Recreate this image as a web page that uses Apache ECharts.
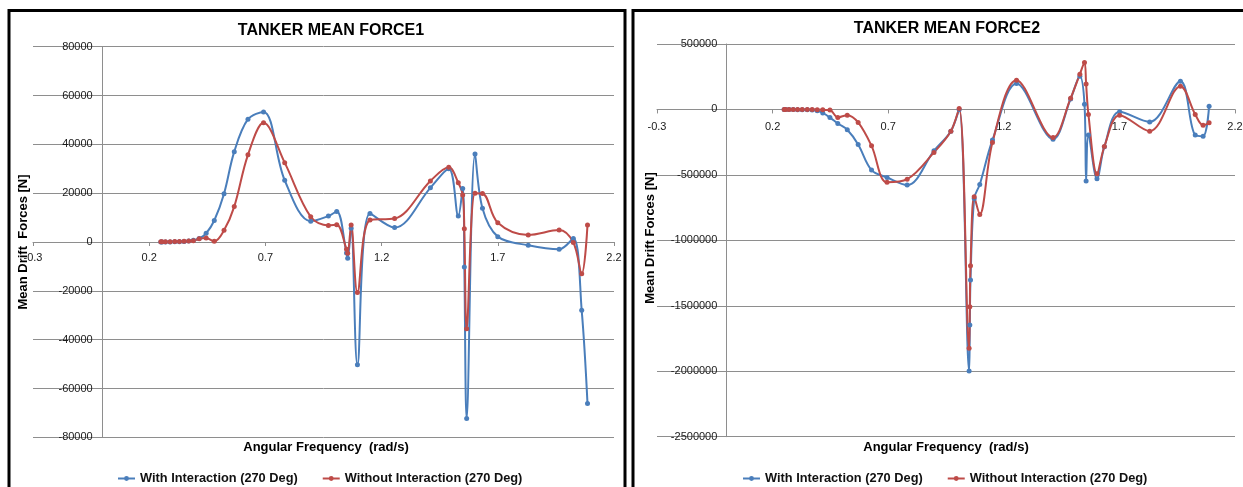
<!DOCTYPE html>
<html>
<head>
<meta charset="utf-8">
<script src="https://cdn.jsdelivr.net/npm/echarts@6/dist/echarts.min.js"></script>
<style>
  html, body { margin: 0; padding: 0; background: #ffffff; }
  #chart { width: 1243px; height: 487px; }
</style>
</head>
<body>
<div id="chart"></div>
<script>
// Angular frequencies (rad/s) sampled for each panel
const freq1 = [0.25, 0.255, 0.27, 0.29, 0.31, 0.33, 0.35, 0.37, 0.39, 0.415, 0.445, 0.48,
  0.522, 0.566, 0.625, 0.692, 0.783, 0.895, 0.971, 1.007, 1.049, 1.054, 1.069, 1.096,
  1.15, 1.256, 1.41, 1.489, 1.53, 1.549, 1.556, 1.566, 1.602, 1.634, 1.70, 1.831,
  1.964, 2.025, 2.061, 2.086];

// Mean drift force, panel 1 (N)
const withInteraction1 = [0, 0, 0, 50, 100, 150, 250, 400, 700, 1400, 3550, 8800,
  19800, 37000, 50300, 53300, 25300, 8500, 10600, 12500, -4500, -6700, 5600, -50300,
  11700, 5900, 22200, 30000, 10600, 21900, -10200, -72300, 36000, 13800, 2200, -1350,
  -3000, 1400, -28000, -66200];
const withoutInteraction1 = [100, 100, 150, 150, 200, 250, 300, 400, 550, 1300, 1600, 300,
  4800, 14500, 35700, 48800, 32500, 10300, 6800, 7100, -3000, -4600, 7000, -20700,
  9000, 9600, 25000, 30600, 24300, 19300, 5400, -35500, 20000, 19900, 7900, 2900,
  4900, -200, -13000, 7000];

const freq2 = [0.25, 0.256, 0.271, 0.289, 0.308, 0.328, 0.35, 0.371, 0.393, 0.417, 0.448, 0.482,
  0.523, 0.570, 0.628, 0.695, 0.782, 0.898, 0.971, 1.007, 1.050, 1.053, 1.056, 1.072,
  1.096, 1.151, 1.255, 1.413, 1.489, 1.529, 1.549, 1.556, 1.566, 1.603, 1.635, 1.701,
  1.831, 1.964, 2.028, 2.062, 2.088];

// Mean drift force, panel 2 (N)
const withInteraction2 = [0, 0, 0, -1000, -1500, -2000, -3000, -5000, -9000, -27000, -62000, -107000,
  -155000, -267000, -463000, -520000, -578000, -316000, -166000, 0, -1998000, -1647000, -1303000, -680000,
  -573000, -234000, 198000, -227000, 80000, 254000, 40000, -547000, -196000, -530000, -285000, -18000,
  -95000, 216000, -196000, -204000, 25000];
const withoutInteraction2 = [0, 0, 0, 0, 0, 0, 0, 0, -2000, -3000, -5000, -61000,
  -43500, -99000, -278000, -557000, -533000, -328000, -166000, 7600, -1825000, -1507000, -1194000, -667000,
  -802000, -252000, 224000, -214000, 86000, 269000, 359000, 195000, -38000, -492000, -283000, -43500,
  -166000, 178000, -38000, -120000, -102000];

const xTicks = [-0.3, 0.2, 0.7, 1.2, 1.7, 2.2];
const seriesNames = ['With Interaction (270 Deg)', 'Without Interaction (270 Deg)'];
const titles = ['TANKER MEAN FORCE1', 'TANKER MEAN FORCE2'];
const yNames = ['Mean Drift  Forces [N]', 'Mean Drift Forces [N]'];
const xName = 'Angular Frequency  (rad/s)';

const FONT = '"Liberation Sans", Arial, sans-serif';
const BLUE = '#4a7ebb';
const RED = '#be4b48';
const GRID_COLOR = '#8e8e8e';
const X_MIN = -0.3, X_MAX = 2.2;

// plotting rectangles of the two panels
const grids = [
  { left: 33, top: 46.7, width: 581, height: 390.6 },
  { left: 657, top: 44, width: 578, height: 392.7 }
];
const yRanges = [
  { min: -80000, max: 80000, interval: 20000 },
  { min: -2500000, max: 500000, interval: 500000 }
];

const pairs = (xs, ys) => xs.map((x, i) => [x, ys[i]]);

// Both axes cross at the origin: shift each axis (line, ticks and labels) in from the grid edge
function yAxisShift(i) {
  return -grids[i].width * (0 - X_MIN) / (X_MAX - X_MIN);
}
function xAxisShift(i) {
  const r = yRanges[i];
  return -grids[i].height * (0 - r.min) / (r.max - r.min);
}

function xAxisFor(i, margin) {
  return {
    type: 'value', gridIndex: i, min: X_MIN, max: X_MAX,
    offset: xAxisShift(i),
    splitLine: { show: false },
    axisLine: { onZero: false, lineStyle: { color: GRID_COLOR, width: 1 } },
    axisTick: { show: true, length: 4, customValues: xTicks, lineStyle: { color: GRID_COLOR } },
    axisLabel: {
      customValues: xTicks, margin, color: '#1a1a1a', fontSize: 11, fontFamily: FONT,
      formatter: v => v.toFixed(1)
    }
  };
}

function yAxisFor(i, margin) {
  const r = yRanges[i];
  return {
    type: 'value', gridIndex: i, min: r.min, max: r.max, interval: r.interval,
    offset: yAxisShift(i),
    splitLine: { show: true, lineStyle: { color: GRID_COLOR, width: 1 } },
    axisLine: { show: true, onZero: false, lineStyle: { color: GRID_COLOR, width: 1 } },
    axisTick: { show: false },
    axisLabel: { margin, color: '#1a1a1a', fontSize: 11, fontFamily: FONT, formatter: v => String(v) }
  };
}

function lineSeries(name, idx, data, color) {
  return {
    name, type: 'line', xAxisIndex: idx, yAxisIndex: idx, data,
    smooth: 0.35, symbol: 'circle', symbolSize: 5, showSymbol: true,
    lineStyle: { color, width: 2 }, itemStyle: { color },
    emphasis: { disabled: true }, animation: false
  };
}

function legendAt(left) {
  return {
    left, top: 472, padding: 0, itemWidth: 17, itemHeight: 6, itemGap: 24,
    data: seriesNames,
    textStyle: { fontFamily: FONT, fontSize: 12.8, fontWeight: 'bold', color: '#111' }
  };
}

function label(text, x, y, size, rotation) {
  return {
    type: 'text', x, y, rotation: rotation || 0, silent: true,
    style: {
      text, fill: '#000', font: 'bold ' + size + 'px ' + FONT,
      align: 'center', verticalAlign: 'middle',
      textAlign: 'center', textVerticalAlign: 'middle'
    }
  };
}

const chart = echarts.init(document.getElementById('chart'), null, { renderer: 'canvas' });

chart.setOption({
  backgroundColor: '#ffffff',
  animation: false,
  grid: grids.map(g => Object.assign({ containLabel: false, outerBoundsMode: 'none' }, g)),
  xAxis: [xAxisFor(0, 10), xAxisFor(1, 12)],
  yAxis: [yAxisFor(0, 10), yAxisFor(1, 9)],
  legend: [legendAt(117), legendAt(742)],
  series: [
    lineSeries(seriesNames[0], 0, pairs(freq1, withInteraction1), BLUE),
    lineSeries(seriesNames[1], 0, pairs(freq1, withoutInteraction1), RED),
    lineSeries(seriesNames[0], 1, pairs(freq2, withInteraction2), BLUE),
    lineSeries(seriesNames[1], 1, pairs(freq2, withoutInteraction2), RED)
  ],
  graphic: [
    // panel frames
    { type: 'rect', silent: true, shape: { x: 9, y: 10.5, width: 616, height: 500 },
      style: { fill: null, stroke: '#000', lineWidth: 3 } },
    { type: 'rect', silent: true, shape: { x: 633, y: 10.5, width: 640, height: 500 },
      style: { fill: null, stroke: '#000', lineWidth: 3 } },
    label(titles[0], 331, 31, 16),
    label(titles[1], 947, 29, 16),
    label(yNames[0], 23.5, 242, 13, Math.PI / 2),
    label(yNames[1], 650.5, 238, 13, Math.PI / 2),
    label(xName, 326, 447.5, 13),
    label(xName, 946, 447.5, 13)
  ]
});
</script>
</body>
</html>
